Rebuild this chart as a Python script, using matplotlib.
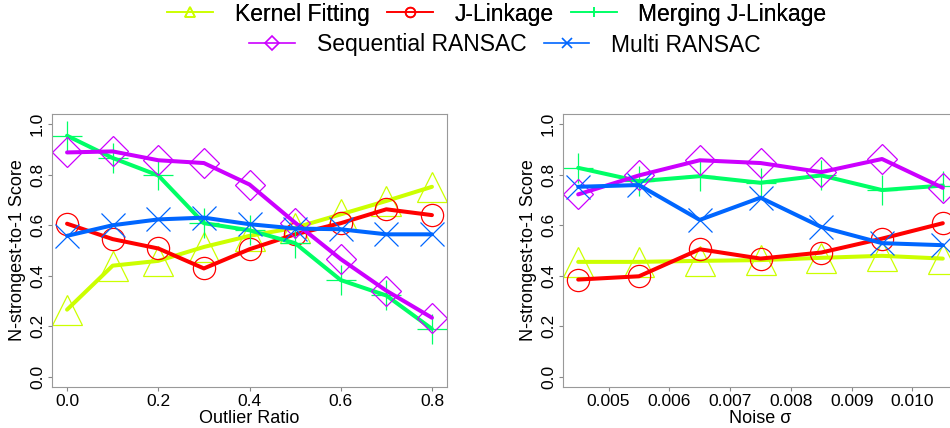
import matplotlib
matplotlib.use("Agg")
import matplotlib.pyplot as plt
from matplotlib.lines import Line2D

plt.rcParams['font.family'] = ['Liberation Sans', 'DejaVu Sans']

# left panel: outlier ratio
outlier = [0.0, 0.1, 0.2, 0.3, 0.4, 0.5, 0.6, 0.7, 0.8]
kernel_o = [0.266, 0.440, 0.459, 0.514, 0.558, 0.590, 0.643, 0.696, 0.752]
jlink_o = [0.606, 0.545, 0.508, 0.429, 0.505, 0.564, 0.608, 0.663, 0.640]
merge_o = [0.954, 0.866, 0.797, 0.608, 0.580, 0.529, 0.383, 0.322, 0.190]
seq_o = [0.888, 0.892, 0.857, 0.846, 0.761, 0.610, 0.466, 0.341, 0.234]
multi_o = [0.558, 0.600, 0.623, 0.630, 0.604, 0.587, 0.584, 0.564, 0.564]

# right panel: noise sigma
noise = [0.0045, 0.0055, 0.0065, 0.0075, 0.0085, 0.0095, 0.0105]
kernel_n = [0.455, 0.455, 0.459, 0.462, 0.471, 0.479, 0.468]
jlink_n = [0.385, 0.398, 0.505, 0.468, 0.492, 0.547, 0.608]
merge_n = [0.827, 0.774, 0.794, 0.768, 0.797, 0.739, 0.757]
seq_n = [0.722, 0.797, 0.857, 0.846, 0.810, 0.862, 0.748]
multi_n = [0.752, 0.759, 0.621, 0.709, 0.593, 0.529, 0.521]

names = ["Kernel Fitting", "J-Linkage", "Merging J-Linkage",
         "Sequential RANSAC", "Multi RANSAC"]
colors = ["#CCFF00", "#FF0000", "#00FF66", "#CC00FF", "#0066FF"]
markers = ["^", "o", "+", "D", "x"]
msizes = [21, 16, 21, 15.5, 17]

fig = plt.figure(figsize=(9.5, 4.28), dpi=100)
ax1 = fig.add_axes([52/950, 41/428, 395/950, 273/428])
ax2 = fig.add_axes([563/950, 41/428, 395/950, 273/428])


def draw(ax, x, series):
    for ys, c, m, s in zip(series, colors, markers, msizes):
        ax.plot(x, ys, linestyle='none', marker=m, ms=s, mfc='none',
                mec=c, mew=0.9)
        ax.plot(x, ys, color=c, lw=2.9, solid_capstyle='round')
    ax.set_ylim(-0.04, 1.04)
    ax.set_yticks([0.0, 0.2, 0.4, 0.6, 0.8, 1.0])
    ax.set_yticklabels(["0.0", "0.2", "0.4", "0.6", "0.8", "1.0"],
                       rotation=90, va='center')
    ax.set_ylabel("N-strongest-to-1 Score", fontsize=13, labelpad=3)
    ax.tick_params(axis='both', labelsize=12.5, length=3, width=0.8,
                   color='#888888', pad=2)
    for sp in ax.spines.values():
        sp.set_color('#999999')
        sp.set_linewidth(0.8)


draw(ax1, outlier, [kernel_o, jlink_o, merge_o, seq_o, multi_o])
ax1.set_xlim(-0.033, 0.833)
ax1.set_xticks([0.0, 0.2, 0.4, 0.6, 0.8])
ax1.set_xticklabels(["0.0", "0.2", "0.4", "0.6", "0.8"])
ax1.set_xlabel("Outlier Ratio", fontsize=13, labelpad=1)

draw(ax2, noise, [kernel_n, jlink_n, merge_n, seq_n, multi_n])
ax2.set_xlim(0.00425, 0.01075)
ax2.set_xticks([0.005, 0.006, 0.007, 0.008, 0.009, 0.010])
ax2.set_xticklabels(["0.005", "0.006", "0.007", "0.008", "0.009", "0.010"])
ax2.set_xlabel("Noise σ", fontsize=13, labelpad=1)

handles = [Line2D([], [], color=c, lw=1.2, marker=m, ms=7, mfc='none',
                  mec=c, mew=1.2) for c, m in zip(colors, markers)]

leg_kw = dict(frameon=False, fontsize=16.5, handlelength=2.0,
              handletextpad=0.95, columnspacing=0.75, borderpad=0,
              loc='center')
leg1 = fig.legend(handles[:3], names[:3], ncol=3,
                  bbox_to_anchor=(497/950, 1 - 14/428), **leg_kw)
fig.add_artist(leg1)
fig.legend(handles[3:], names[3:], ncol=2,
           bbox_to_anchor=(505/950, 1 - 45/428), **leg_kw)

fig.savefig("out.png", dpi=100)
